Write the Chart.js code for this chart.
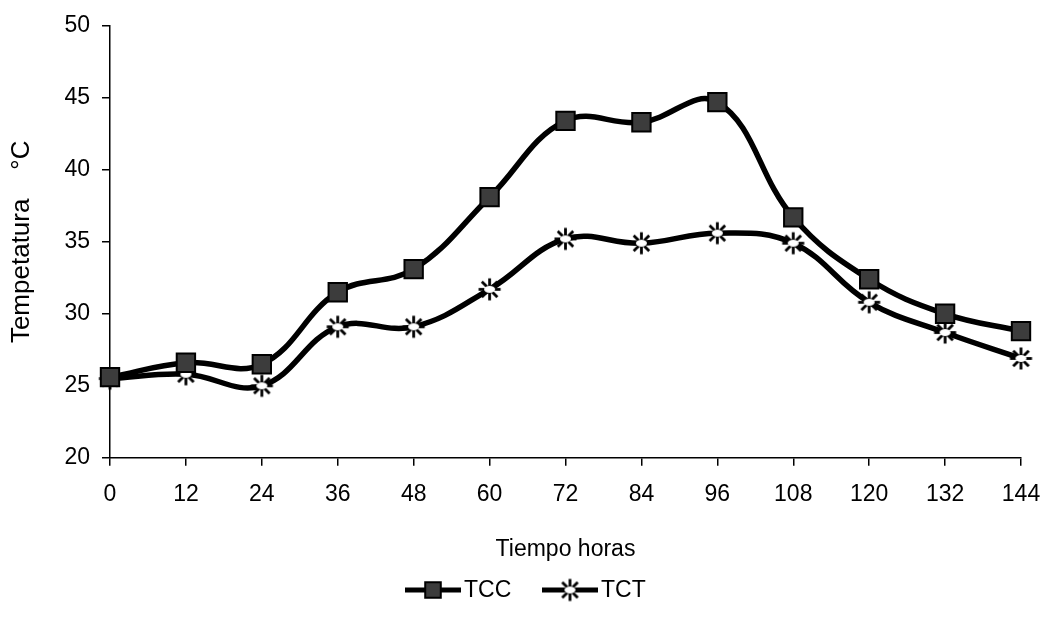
<!DOCTYPE html>
<html>
<head>
<meta charset="utf-8">
<script src="https://cdn.jsdelivr.net/npm/chart.js@4.4.0/dist/chart.umd.min.js"></script>
<style>
  html, body { margin: 0; padding: 0; background: #fff; }
  #wrap { width: 1049px; height: 626px; }
</style>
</head>
<body>
<div id="wrap"><canvas id="c" width="1049" height="626"></canvas></div>
<script>
const categories = ['0', '12', '24', '36', '48', '60', '72', '84', '96', '108', '120', '132', '144'];
const tccValues = [25.6, 26.6, 26.5, 31.5, 33.1, 38.1, 43.4, 43.3, 44.7, 36.7, 32.4, 30.0, 28.8];
const tctValues = [25.5, 25.8, 25.0, 29.1, 29.1, 31.7, 35.2, 34.9, 35.6, 34.9, 30.8, 28.7, 26.9];
const yTicks = [20, 25, 30, 35, 40, 45, 50];

const FONT = '"Liberation Sans", Arial, sans-serif';

// asterisk marker with a white centre
function makeStar(size) {
  const c = document.createElement('canvas');
  c.width = size; c.height = size;
  const g = c.getContext('2d');
  const m = size / 2, r = size / 2 - 1.5;
  g.strokeStyle = '#000';
  g.lineWidth = 2.8;
  g.lineCap = 'butt';
  [90, 45, 135].forEach(a => {
    const rad = a * Math.PI / 180;
    g.beginPath();
    g.moveTo(m - r * Math.cos(rad), m - r * Math.sin(rad));
    g.lineTo(m + r * Math.cos(rad), m + r * Math.sin(rad));
    g.stroke();
  });
  g.beginPath();
  g.moveTo(m - r, m); g.lineTo(m + r, m);
  g.stroke();
  g.fillStyle = '#fff';
  g.beginPath();
  g.ellipse(m, m, 5.5, 3.4, 0, 0, Math.PI * 2);
  g.fill();
  return c;
}
const starImg = makeStar(25);

const legendPlugin = {
  id: 'lineLegend',
  afterDraw(chart) {
    const ctx = chart.ctx;
    const ds = chart.data.datasets;
    const pos = [405, 542];
    const y = 590;
    ctx.save();
    ds.forEach((d, i) => {
      const x0 = pos[i];
      ctx.strokeStyle = '#000';
      ctx.lineWidth = 5;
      ctx.beginPath();
      ctx.moveTo(x0, y);
      ctx.lineTo(x0 + 56, y);
      ctx.stroke();
      ctx.fillStyle = d.pointBackgroundColor;
      ctx.strokeStyle = d.pointBorderColor;
      ctx.lineWidth = d.pointBorderWidth;
      Chart.helpers.drawPoint(ctx, {
        pointStyle: d.pointStyle,
        radius: d.pointRadius - 2,
        borderWidth: d.pointBorderWidth,
        rotation: 0
      }, x0 + 28, y);
      ctx.fillStyle = '#000';
      ctx.font = '23px ' + FONT;
      ctx.textBaseline = 'middle';
      ctx.textAlign = 'left';
      ctx.fillText(d.label, x0 + 59, y + 1);
    });
    ctx.restore();
  }
};

new Chart(document.getElementById('c'), {
  type: 'line',
  data: {
    labels: categories,
    datasets: [
      {
        label: 'TCC',
        data: tccValues,
        borderColor: '#000',
        borderWidth: 5.5,
        tension: 0.4,
        pointStyle: 'rect',
        pointRadius: 13,
        pointBackgroundColor: '#3c3c3c',
        pointBorderColor: '#000',
        pointBorderWidth: 2,
        fill: false
      },
      {
        label: 'TCT',
        data: tctValues,
        borderColor: '#000',
        borderWidth: 5.5,
        tension: 0.4,
        pointStyle: starImg,
        pointRadius: 12,
        pointBackgroundColor: '#fff',
        pointBorderColor: '#000',
        pointBorderWidth: 2,
        fill: false
      }
    ]
  },
  options: {
    responsive: false,
    animation: false,
    devicePixelRatio: 1,
    layout: { autoPadding: false, padding: { left: 6, top: 25, right: 28, bottom: 63 } },
    plugins: {
      legend: { display: false },
      tooltip: { enabled: false }
    },
    scales: {
      x: {
        type: 'category',
        offset: false,
        afterFit(scale) { scale.paddingLeft = 0; scale.paddingRight = 0; },
        grid: { display: true, drawOnChartArea: false, drawTicks: true, tickLength: 8, color: '#000', lineWidth: 1.5 },
        border: { display: true, color: '#000', width: 1.5 },
        ticks: { color: '#000', font: { family: FONT, size: 23 }, padding: 15, maxRotation: 0, autoSkip: false },
        title: { display: true, text: 'Tiempo horas', color: '#000', font: { family: FONT, size: 23 }, padding: { top: 12, bottom: 0 } }
      },
      y: {
        min: 20,
        max: 50,
        afterBuildTicks(scale) { scale.ticks = yTicks.map(v => ({ value: v })); },
        afterFit(scale) { scale.width = 104; },
        grid: { display: true, drawOnChartArea: false, drawTicks: true, tickLength: 8, color: '#000', lineWidth: 1.5 },
        border: { display: true, color: '#000', width: 1.5 },
        ticks: { color: '#000', font: { family: FONT, size: 23 }, padding: 12 },
        title: { display: true, text: 'Tempetatura    °C', color: '#000', font: { family: FONT, size: 26 }, padding: { top: 0, bottom: 0 } }
      }
    }
  },
  plugins: [legendPlugin]
});
</script>
</body>
</html>
